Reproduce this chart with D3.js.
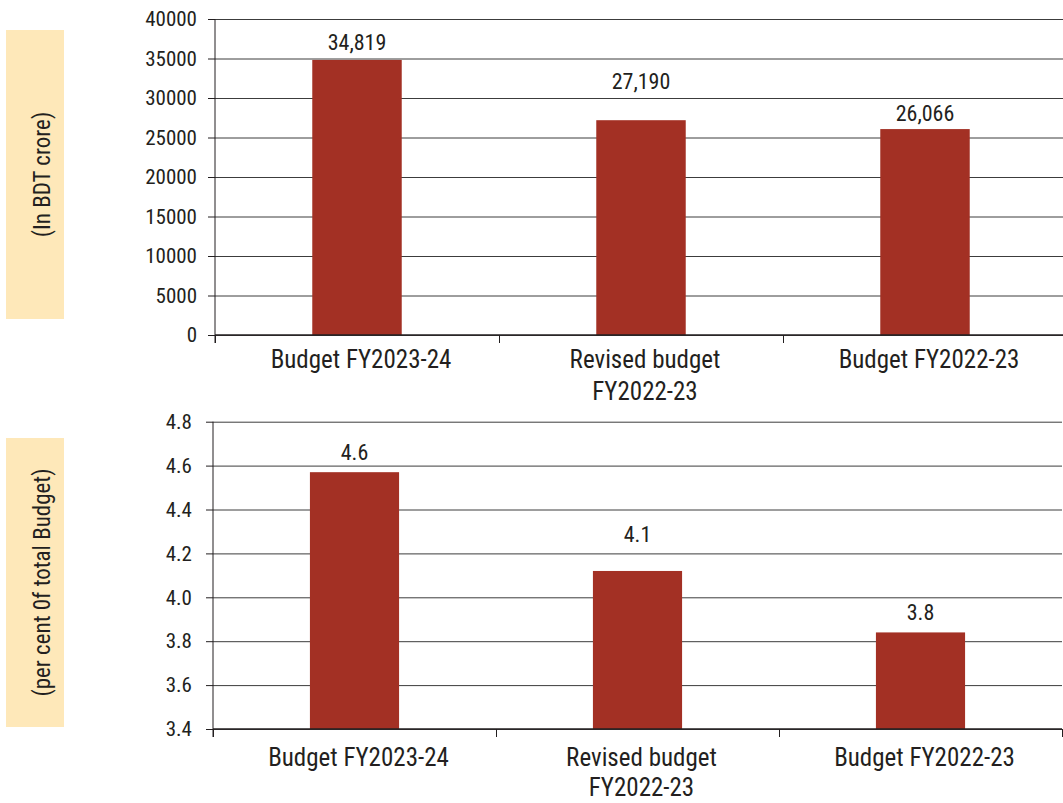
<!DOCTYPE html>
<html>
<head>
<meta charset="utf-8">
<script src="https://cdn.jsdelivr.net/npm/d3@7.9.0/dist/d3.min.js"></script>
<style>
  body { margin: 0; background: #fff; }
  svg { display: block; font-family: "Roboto", "Roboto Condensed", sans-serif; font-stretch: condensed; }
  svg text { font-stretch: condensed; }
  .domain { display: none; }
</style>
</head>
<body>
<svg id="chart" width="1063" height="803"></svg>
<script>
// categories shared by both panels (each entry is the lines of one label)
const categoryLines = [
  ['Budget FY2023-24'],
  ['Revised budget', 'FY2022-23'],
  ['Budget FY2022-23']
];

// panel 1: allocation in BDT crore
const allocationCrore = [34819, 27190, 26066];
const allocationLabels = ['34,819', '27,190', '26,066'];
const croreTicks = [0, 5000, 10000, 15000, 20000, 25000, 30000, 35000, 40000];

// panel 2: share of total budget (%)
const shareOfBudget = [4.57, 4.12, 3.84];
const shareLabels = ['4.6', '4.1', '3.8'];
const shareTicks = [3.4, 3.6, 3.8, 4.0, 4.2, 4.4, 4.6, 4.8];

const ink = '#231f20';
const barColor = '#a33024';
const gridColor = '#3c3c3c';
const boxColor = '#fee8b9';

const svg = d3.select('#chart');

function drawPanel(opt) {
  const g = svg.append('g');
  const keys = opt.values.map((_, i) => i);

  const x = d3.scaleBand().domain(keys).range([opt.left, opt.right]);
  const xEdge = d3.scaleLinear().domain([0, keys.length]).range([opt.left, opt.right]);
  const y = d3.scaleLinear().domain(opt.domain).range([opt.bottom, opt.top]);

  // side label box
  g.append('rect')
    .attr('x', 6).attr('y', opt.boxTop)
    .attr('width', 58).attr('height', opt.boxHeight)
    .attr('fill', boxColor);
  g.append('text')
    .attr('transform', `translate(42,${opt.boxTop + opt.boxHeight / 2}) rotate(-90)`)
    .attr('text-anchor', 'middle')
    .attr('dominant-baseline', 'central')
    .attr('font-size', opt.titleSize)
    .attr('fill', ink)
    .text(opt.title);

  // gridlines
  g.append('g')
    .attr('transform', `translate(${opt.left},0)`)
    .call(d3.axisLeft(y).tickValues(opt.ticks).tickSize(-(opt.right - opt.left)).tickFormat(''))
    .call(s => s.selectAll('.tick line').attr('stroke', gridColor).attr('stroke-width', 1));

  // bars
  const barW = x.bandwidth() * 0.315;
  g.selectAll('rect.bar')
    .data(opt.values)
    .join('rect')
    .attr('class', 'bar')
    .attr('x', (d, i) => x(i) + x.bandwidth() / 2 - barW / 2)
    .attr('y', d => y(d))
    .attr('width', barW)
    .attr('height', d => opt.bottom - y(d))
    .attr('fill', barColor);

  // value labels
  g.selectAll('text.val')
    .data(opt.values)
    .join('text')
    .attr('class', 'val')
    .attr('x', (d, i) => x(i) + x.bandwidth() / 2)
    .attr('y', (d, i) => y(d) - opt.labelGap[i])
    .attr('text-anchor', 'middle')
    .attr('font-size', 22)
    .attr('fill', ink)
    .text((d, i) => opt.labels[i]);

  // y axis
  const yAxis = g.append('g')
    .attr('transform', `translate(${opt.left},0)`)
    .call(d3.axisLeft(y).tickValues(opt.ticks).tickSize(7).tickPadding(opt.tickPad).tickFormat(opt.fmt));
  yAxis.attr('font-family', null).attr('font-size', null);
  yAxis.selectAll('.tick line').attr('stroke', ink);
  yAxis.selectAll('.tick text').attr('font-size', 21).attr('fill', ink);
  g.append('line')
    .attr('x1', opt.left).attr('x2', opt.left)
    .attr('y1', opt.top).attr('y2', opt.bottom + 8)
    .attr('stroke', ink);

  // x axis with ticks on category boundaries
  g.append('g')
    .attr('transform', `translate(0,${opt.bottom})`)
    .call(d3.axisBottom(xEdge).tickValues(d3.range(keys.length + 1)).tickSize(8).tickFormat(''))
    .call(s => s.selectAll('.tick line').attr('stroke', ink));
  g.append('line')
    .attr('x1', opt.left).attr('x2', opt.right)
    .attr('y1', opt.bottom).attr('y2', opt.bottom)
    .attr('stroke', ink).attr('stroke-width', 1.5);

  // category labels
  const cat = g.selectAll('text.cat')
    .data(categoryLines)
    .join('text')
    .attr('class', 'cat')
    .attr('text-anchor', 'middle')
    .attr('font-size', 25)
    .attr('fill', ink);
  cat.selectAll('tspan')
    .data((lines, i) => lines.map(t => ({ t, i })))
    .join('tspan')
    .attr('x', d => x(d.i) + x.bandwidth() / 2 + 4)
    .attr('y', (d, j) => opt.bottom + opt.catOffset + j * opt.lineGap)
    .text(d => d.t);
}

drawPanel({
  values: allocationCrore,
  labels: allocationLabels,
  ticks: croreTicks,
  domain: [0, 40000],
  fmt: d3.format('d'),
  left: 215, right: 1067, top: 19, bottom: 335,
  tickPad: 11,
  labelGap: [10, 31, 8],
  catOffset: 33, lineGap: 32,
  title: '(In BDT crore)',
  titleSize: 23,
  boxTop: 30, boxHeight: 289
});

drawPanel({
  values: shareOfBudget,
  labels: shareLabels,
  ticks: shareTicks,
  domain: [3.4, 4.8],
  fmt: d3.format('.1f'),
  left: 213, right: 1062, top: 421.7, bottom: 729,
  tickPad: 14,
  labelGap: [12, 29, 12],
  catOffset: 37, lineGap: 30,
  title: '(per cent 0f total Budget)',
  titleSize: 23,
  boxTop: 438, boxHeight: 289
});
</script>
</body>
</html>
